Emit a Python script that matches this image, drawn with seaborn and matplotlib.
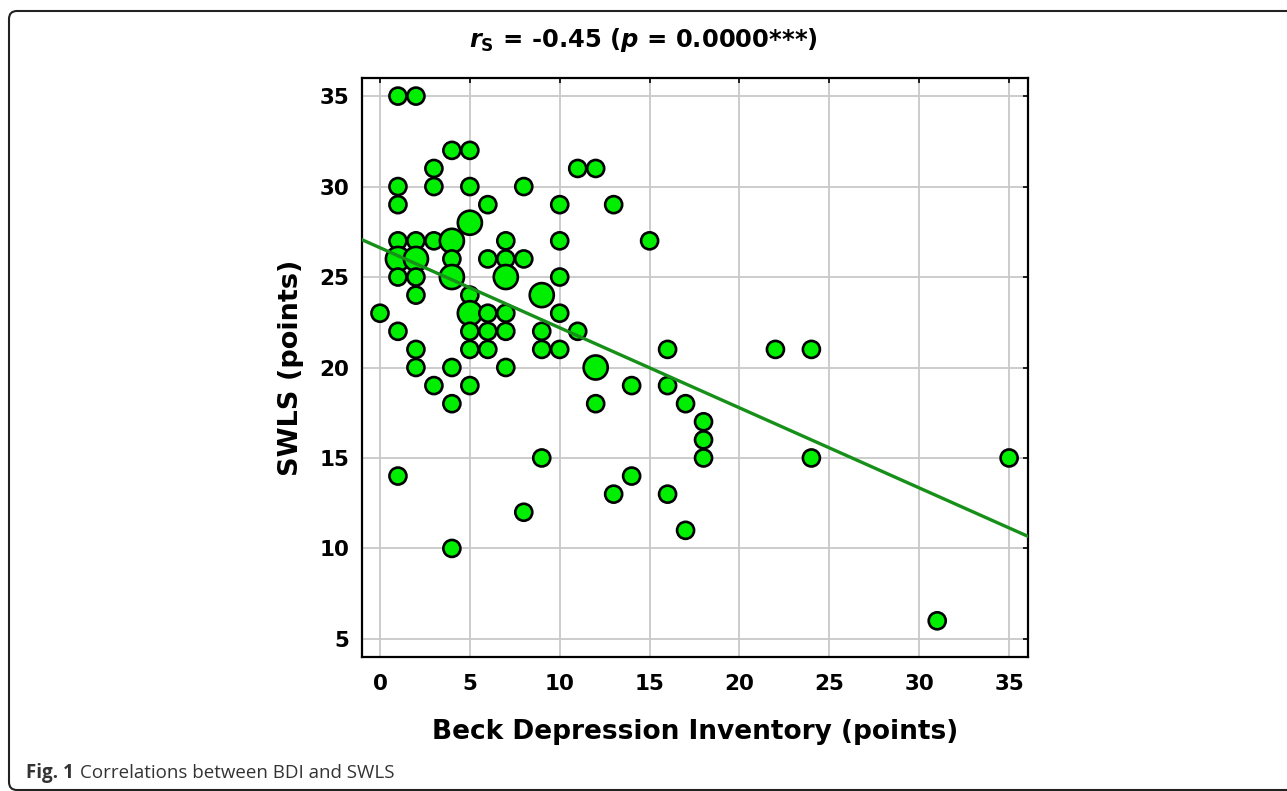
import numpy as np
import pandas as pd
import matplotlib
matplotlib.use("Agg")
import matplotlib.pyplot as plt
import seaborn as sns
from matplotlib.patches import FancyBboxPatch
from matplotlib.transforms import IdentityTransform

# ---- data ----
bdi = [0,
       1, 1, 1, 1, 1, 1, 1, 1,
       2, 2, 2, 2, 2, 2, 2,
       3, 3, 3, 3,
       4, 4, 4, 4, 4, 4, 4,
       5, 5, 5, 5, 5, 5, 5, 5,
       6, 6, 6, 6, 6,
       7, 7, 7, 7, 7, 7,
       8, 8, 8,
       9, 9, 9, 9,
       10, 10, 10, 10, 10,
       11, 11,
       12, 12, 12,
       13, 13,
       14, 14,
       15,
       16, 16, 16,
       17, 17,
       18, 18, 18,
       22,
       24, 24,
       31,
       35]
swls = [23,
        35, 30, 29, 27, 26, 25, 22, 14,
        35, 27, 26, 25, 24, 21, 20,
        31, 30, 27, 19,
        32, 27, 26, 25, 20, 18, 10,
        32, 30, 28, 24, 23, 22, 21, 19,
        29, 26, 23, 22, 21,
        27, 26, 25, 23, 22, 20,
        30, 26, 12,
        24, 22, 21, 15,
        29, 27, 25, 23, 21,
        31, 22,
        31, 20, 18,
        29, 13,
        19, 14,
        27,
        21, 19, 13,
        18, 11,
        17, 16, 15,
        21,
        21, 15,
        6,
        15]
count = [1,
         1, 1, 1, 1, 2, 1, 1, 1,
         1, 1, 2, 1, 1, 1, 1,
         1, 1, 1, 1,
         1, 2, 1, 2, 1, 1, 1,
         1, 1, 2, 1, 2, 1, 1, 1,
         1, 1, 1, 1, 1,
         1, 1, 2, 1, 1, 1,
         1, 1, 1,
         2, 1, 1, 1,
         1, 1, 1, 1, 1,
         1, 1,
         1, 2, 1,
         1, 1,
         1, 1,
         1,
         1, 1, 1,
         1, 1,
         1, 1, 1,
         1,
         1, 1,
         1,
         1]
fit_intercept = 26.62
fit_slope = -0.4425
x_ticks = [0, 5, 10, 15, 20, 25, 30, 35]
y_ticks = [5, 10, 15, 20, 25, 30, 35]

df = pd.DataFrame({"BDI": bdi, "SWLS": swls, "n": count})

sns.set_theme(style="white")
plt.rcParams["font.family"] = ["DejaVu Sans"]
plt.rcParams["text.color"] = "black"
plt.rcParams["axes.labelcolor"] = "black"
plt.rcParams["xtick.color"] = "black"
plt.rcParams["ytick.color"] = "black"
plt.rcParams["mathtext.fontset"] = "custom"
plt.rcParams["mathtext.rm"] = "DejaVu Sans:bold"
plt.rcParams["mathtext.bf"] = "DejaVu Sans:bold"
plt.rcParams["mathtext.it"] = "DejaVu Sans:bold:italic"
plt.rcParams["mathtext.bfit"] = "DejaVu Sans:bold:italic"

W, H = 1287, 791
fig = plt.figure(figsize=(W / 100, H / 100), dpi=100)
fig.patch.set_facecolor("white")

ax = fig.add_axes([362 / W, 1 - 657 / H, (1028 - 362) / W, (657 - 78) / H])
ax.set_facecolor("white")

sns.scatterplot(data=df, x="BDI", y="SWLS", size="n", sizes={1: 150, 2: 300},
                color="#00EE00", edgecolor="black", linewidth=1.9,
                legend=False, ax=ax, zorder=3)

xlim = (-1.0, 36.05)
line_x = np.array(xlim)
sns.lineplot(x=line_x, y=fit_intercept + fit_slope * line_x, color="#17901A",
             linewidth=2.4, ax=ax, zorder=4)

ax.set_xlim(*xlim)
ax.set_ylim(4.0, 36.0)
ax.set_xticks(x_ticks)
ax.set_yticks(y_ticks)
ax.grid(True, color="#c8c8c8", linewidth=1.3)
ax.set_axisbelow(True)
for s in ax.spines.values():
    s.set_visible(True)
    s.set_color("black")
    s.set_linewidth(1.6)
ax.tick_params(axis="both", direction="in", length=3.5, width=1.2, color="black",
               top=True, right=True, labelsize=15.5, labelcolor="black")
ax.tick_params(axis="x", pad=12)
ax.tick_params(axis="y", pad=9)
for lab in ax.get_xticklabels() + ax.get_yticklabels():
    lab.set_fontweight("bold")
ax.set_xlabel("Beck Depression Inventory (points)", fontsize=19, fontweight="bold",
              labelpad=18)
ax.set_ylabel("SWLS (points)", fontsize=19.5, fontweight="bold", labelpad=11)

fig.text(0.5, 1 - 40 / H, r"$r_{\mathrm{S}}$ = -0.45 ($p$ = 0.0000***)",
         ha="center", va="center", fontsize=17.5, fontweight="bold")

# border box with rounded corner
box = FancyBboxPatch((9, 1), 1400, 780 - 1, boxstyle="round,pad=0,rounding_size=8",
                     transform=IdentityTransform(), fill=False, edgecolor="#222222",
                     linewidth=1.5, clip_on=False)
fig.patches.append(box)

fig.text(26 / W, 1 - 773 / H, "Fig. 1", fontsize=13.5, fontweight="bold",
         family=["Open Sans", "DejaVu Sans"], color="#333333", va="center", ha="left")
fig.text(80 / W, 1 - 773 / H, "Correlations between BDI and SWLS", fontsize=13.5,
         family=["Open Sans", "DejaVu Sans"], color="#333333", va="center", ha="left")

fig.savefig("out.png", dpi=100, facecolor="white")
